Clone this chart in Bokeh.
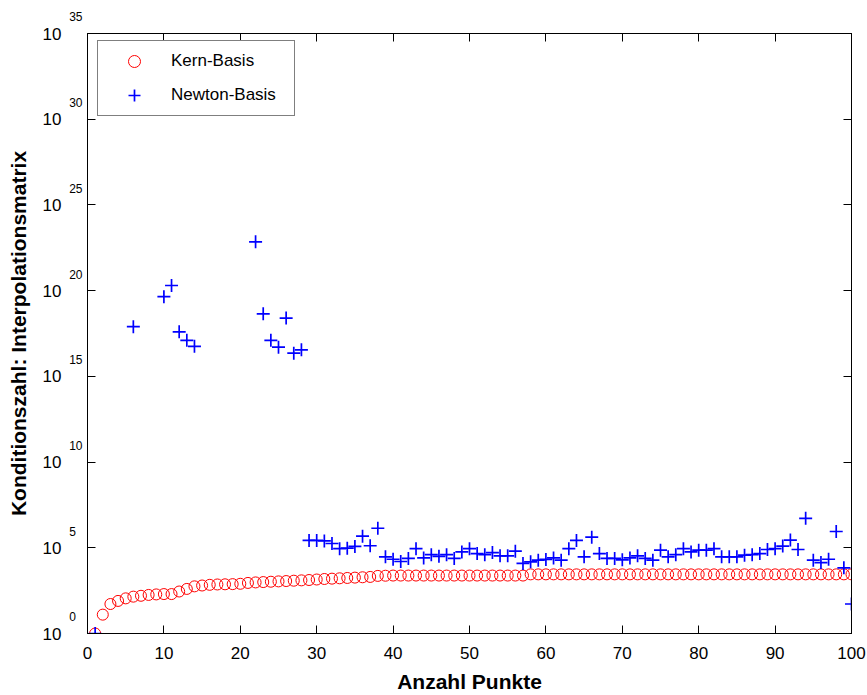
from bokeh.plotting import figure
from bokeh.models import (FixedTicker, CustomJSTickFormatter, LinearAxis, LogAxis,
                          Legend, LegendItem, Range1d)
from bokeh.embed import file_html
from bokeh.resources import INLINE

# ---------------- data ----------------
n_kern = list(range(1, 101))
kern_log10 = [
    0.0, 1.1, 1.72, 1.9, 2.05, 2.15, 2.2, 2.25, 2.28, 2.3,
    2.3, 2.45, 2.6, 2.75, 2.8, 2.84, 2.86, 2.87, 2.88, 2.9,
    2.95, 2.98, 3.0, 3.02, 3.04, 3.06, 3.08, 3.1, 3.12, 3.15,
    3.18, 3.2, 3.22, 3.24, 3.26, 3.28, 3.3, 3.36, 3.37, 3.38,
    3.38, 3.38, 3.38, 3.38, 3.38, 3.38, 3.38, 3.38, 3.38, 3.38,
    3.38, 3.38, 3.38, 3.38, 3.38, 3.38, 3.38, 3.45, 3.45, 3.45,
    3.45, 3.45, 3.45, 3.45, 3.45, 3.45, 3.45, 3.45, 3.45, 3.45,
    3.45, 3.45, 3.45, 3.45, 3.45, 3.45, 3.45, 3.45, 3.45, 3.45,
    3.45, 3.45, 3.45, 3.45, 3.45, 3.45, 3.45, 3.45, 3.45, 3.45,
    3.45, 3.45, 3.45, 3.45, 3.45, 3.45, 3.45, 3.45, 3.45, 3.45,
]

n_newton = [1, 6, 10, 11, 12, 13, 14, 22, 23, 24, 25, 26, 27, 28] + list(range(29, 101))
newton_log10 = [
    0.0, 17.9, 19.65, 20.3, 17.6, 17.1, 16.75, 22.85, 18.65, 17.1, 16.7, 18.4, 16.35, 16.55,
    5.43, 5.43, 5.4, 5.25, 4.95, 4.98, 5.08, 5.68, 5.12, 6.14,
    4.47, 4.33, 4.2, 4.38, 4.95, 4.41, 4.6, 4.5, 4.6, 4.38,
    4.76, 4.95, 4.66, 4.6, 4.72, 4.53, 4.53, 4.8, 4.09, 4.18,
    4.28, 4.32, 4.41, 4.28, 4.95, 5.43, 4.47, 5.62, 4.66, 4.38,
    4.38, 4.3, 4.41, 4.53, 4.38, 4.28, 4.86, 4.47, 4.6, 4.95,
    4.76, 4.86, 4.86, 4.95, 4.47, 4.47, 4.47, 4.57, 4.6, 4.66,
    4.9, 4.95, 5.1, 5.45, 4.9, 6.72, 4.28, 4.14, 4.33, 5.95,
    3.83, 1.72,
]

x_ticks = [0, 10, 20, 30, 40, 50, 60, 70, 80, 90, 100]
y_exponents = [0, 5, 10, 15, 20, 25, 30, 35]

series_names = ["Kern-Basis", "Newton-Basis"]
x_title = "Anzahl Punkte"
y_title = "Konditionszahl: Interpolationsmatrix"

kern_vals = [10 ** v for v in kern_log10]
newton_vals = [10 ** v for v in newton_log10]
y_ticks = [10.0 ** e for e in y_exponents]

FONT = "Liberation Sans"

p = figure(width=867, height=695, y_axis_type="log",
           x_range=Range1d(0, 100), y_range=Range1d(1, 1e35),
           output_backend="svg", toolbar_location=None,
           min_border_left=87, min_border_right=16,
           min_border_top=33, min_border_bottom=61,
           background_fill_color="white", border_fill_color="white")
p.grid.visible = False
p.outline_line_color = "black"
p.outline_line_width = 1

r_kern = p.scatter(n_kern, kern_vals, marker="circle", size=11,
                   fill_color=None, line_color="#ff0000", line_width=1)
r_newton = p.scatter(n_newton, newton_vals, marker="cross", size=13,
                     line_color="#0000ff", line_width=1.7)

empty = CustomJSTickFormatter(code="return '';")

def style_axis(ax):
    ax.axis_line_color = "black"
    ax.major_tick_line_color = "black"
    ax.major_tick_in = 8
    ax.major_tick_out = 0
    ax.minor_tick_line_color = None
    ax.major_label_text_font = FONT
    ax.major_label_text_font_size = "17px"
    ax.major_label_text_color = "black"
    ax.axis_label_text_font = FONT
    ax.axis_label_text_font_size = "21px"
    ax.axis_label_text_font_style = "bold"
    ax.axis_label_text_color = "black"

xa = p.xaxis[0]
xa.ticker = FixedTicker(ticks=x_ticks)
xa.axis_label = x_title
style_axis(xa)
xa.major_label_standoff = 13
xa.axis_label_standoff = 8

# inner left axis: inward ticks + raised exponents
ya = p.yaxis[0]
ya.ticker = FixedTicker(ticks=y_ticks)
ya.formatter = CustomJSTickFormatter(code="""
const s = String(Math.round(Math.log10(tick)));
return (s.length < 2 ? s + "\\u2007" : s) + "\\n";
""")
style_axis(ya)
ya.major_label_text_font_size = "12px"
ya.major_label_text_line_height = 2.3
ya.major_label_standoff = 5

# outer left axis: the "10" mantissas and the title
ya2 = LogAxis(ticker=FixedTicker(ticks=y_ticks),
              formatter=CustomJSTickFormatter(code="return '10';"))
style_axis(ya2)
ya2.axis_line_color = None
ya2.major_tick_line_color = None
ya2.major_label_standoff = 5
ya2.axis_label = y_title
ya2.axis_label_standoff = 10
p.add_layout(ya2, "left")

top = LinearAxis(ticker=FixedTicker(ticks=x_ticks), formatter=empty)
style_axis(top)
top.major_label_standoff = 0
p.add_layout(top, "above")

right = LogAxis(ticker=FixedTicker(ticks=y_ticks), formatter=empty)
style_axis(right)
right.major_label_standoff = 0
p.add_layout(right, "right")

legend = Legend(items=[LegendItem(label=series_names[0], renderers=[r_kern]),
                       LegendItem(label=series_names[1], renderers=[r_newton])],
                location=(10, 517))
legend.border_line_color = "black"
legend.border_line_width = 1
legend.background_fill_color = "white"
legend.background_fill_alpha = 1
legend.padding = 5
legend.spacing = 4
legend.margin = 0
legend.glyph_width = 62
legend.glyph_height = 30
legend.label_standoff = 6
legend.label_width = 118
legend.label_height = 30
legend.label_text_font = FONT
legend.label_text_font_size = "17px"
legend.label_text_color = "black"
p.add_layout(legend)

open("out.html", "w").write(file_html(p, INLINE))
